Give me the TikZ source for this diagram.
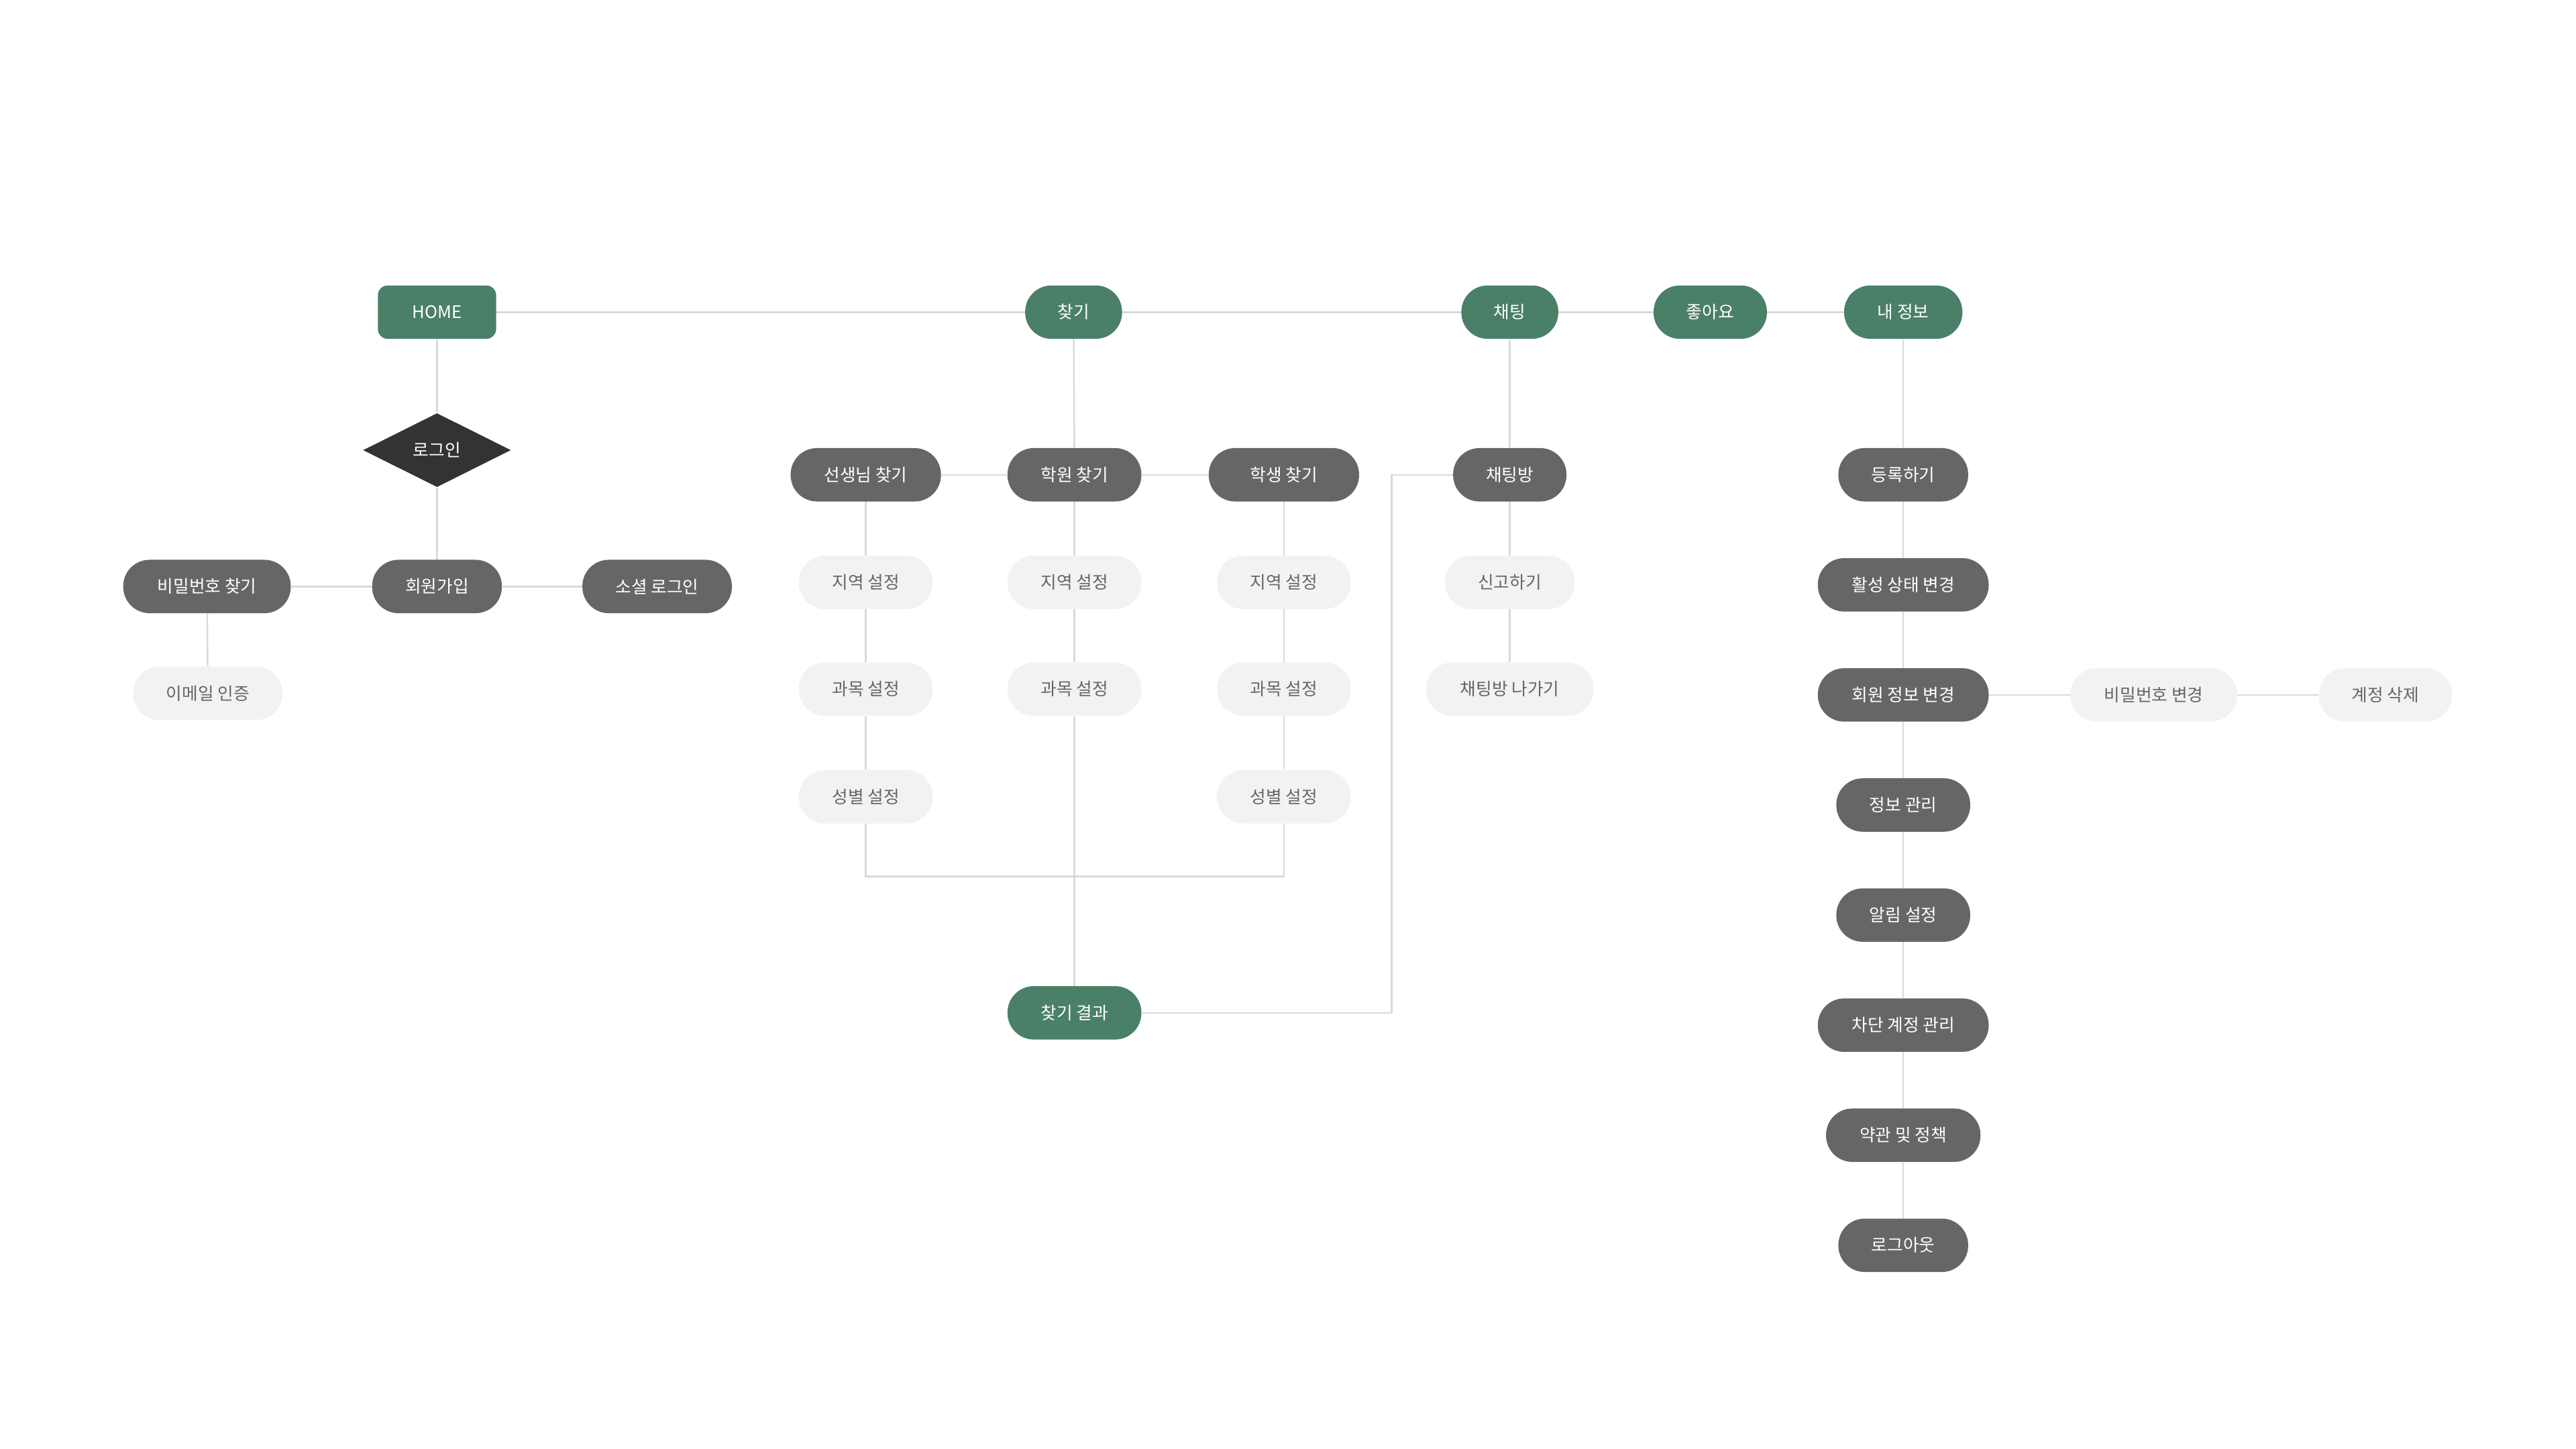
\documentclass[tikz,border=0pt]{standalone}
\usepackage{fontspec}
\setmainfont{Noto Sans CJK KR}
\usepackage{tikz}
\usetikzlibrary{shapes.geometric}

\definecolor{mygreen}{HTML}{4A8067}
\definecolor{mydark}{HTML}{666666}
\definecolor{mylight}{HTML}{F2F2F2}
\definecolor{mytext}{HTML}{666666}
\definecolor{mydiamond}{HTML}{333333}
\definecolor{myline}{HTML}{D9D9D9}

\begin{document}
\begin{tikzpicture}[x=1pt, y=-1pt,
        every node/.style={font=\fontsize{10.5}{12}\selectfont, inner xsep=6pt, inner ysep=0pt, minimum height=32.5pt},
        menu/.style={rectangle, rounded corners=16pt, fill=mygreen, text=white},
        page/.style={rectangle, rounded corners=16pt, fill=mydark, text=white},
        option/.style={rectangle, rounded corners=16pt, fill=mylight, text=mytext},
        decision/.style={diamond, fill=mydiamond, text=white, inner sep=0pt, minimum width=90pt, minimum height=45pt, aspect=2},
        link/.style={draw=myline, line width=1pt} ]
    \useasboundingbox (0,0) rectangle (1568,882);

    \node[menu, rounded corners=6pt, minimum width=72pt] (home) at (266,190) {HOME};
    \node[menu, minimum width=59pt] (find) at (653.5,190) {찾기};
    \node[menu, minimum width=59pt] (chat) at (919,190) {채팅};
    \node[menu, minimum width=69pt] (like) at (1041,190) {좋아요};
    \node[menu, minimum width=72pt] (myinfo) at (1158.5,190) {내 정보};

    \node[decision] (login) at (266,274) {로그인};
    \node[page, minimum width=102pt] (findpw) at (126,357) {비밀번호 찾기};
    \node[page, minimum width=79pt] (signup) at (266,357) {회원가입};
    \node[page, minimum width=91pt] (social) at (400,357) {소셜 로그인};
    \node[option, minimum width=91pt] (email) at (126.5,422) {이메일 인증};

    \node[page, minimum width=91.5pt] (teacher) at (527,289) {선생님 찾기};
    \node[page, minimum width=81.5pt] (academy) at (654,289) {학원 찾기};
    \node[page, minimum width=91.5pt] (student) at (781.5,289) {학생 찾기};
    \node[option, minimum width=81.5pt] (t1) at (527,354.5) {지역 설정};
    \node[option, minimum width=81.5pt] (t2) at (527,419.5) {과목 설정};
    \node[option, minimum width=81.5pt] (t3) at (527,485) {성별 설정};
    \node[option, minimum width=81.5pt] (a1) at (654,354.5) {지역 설정};
    \node[option, minimum width=81.5pt] (a2) at (654,419.5) {과목 설정};
    \node[option, minimum width=81.5pt] (s1) at (781.5,354.5) {지역 설정};
    \node[option, minimum width=81.5pt] (s2) at (781.5,419.5) {과목 설정};
    \node[option, minimum width=81.5pt] (s3) at (781.5,485) {성별 설정};
    \node[menu, minimum width=81.5pt] (result) at (654,616.5) {찾기 결과};
    \coordinate (merge) at (654,533.5);
    \coordinate (bend) at (847,289);

    \node[page, minimum width=69pt] (chatroom) at (919,289) {채팅방};
    \node[option, minimum width=79pt] (report) at (919,354.5) {신고하기};
    \node[option, minimum width=102pt] (leave) at (919,419.5) {채팅방 나가기};

    \node[page, minimum width=79pt] (reg) at (1158.5,289) {등록하기};
    \node[page, minimum width=104pt] (status) at (1158.5,356) {활성 상태 변경};
    \node[page, minimum width=104pt] (member) at (1158.5,423) {회원 정보 변경};
    \node[page, minimum width=81.5pt] (manage) at (1158.5,490) {정보 관리};
    \node[page, minimum width=81.5pt] (alarm) at (1158.5,557) {알림 설정};
    \node[page, minimum width=104pt] (block) at (1158.5,624) {차단 계정 관리};
    \node[page, minimum width=94pt] (terms) at (1158.5,691) {약관 및 정책};
    \node[page, minimum width=79pt] (logout) at (1158.5,758) {로그아웃};
    \node[option, minimum width=101.5pt] (pwchange) at (1311,423) {비밀번호 변경};
    \node[option, minimum width=81pt] (delete) at (1452,423) {계정 삭제};

    \draw[link] (home) -- (find) -- (chat) -- (like) -- (myinfo);
    \draw[link] (home) -- (login) -- (signup);
    \draw[link] (findpw) -- (signup) -- (social);
    \draw[link] (findpw) -- (email);
    \draw[link] (find) -- (academy);
    \draw[link] (teacher) -- (academy) -- (student);
    \draw[link] (teacher) -- (t1) -- (t2) -- (t3);
    \draw[link] (academy) -- (a1) -- (a2) -- (result);
    \draw[link] (student) -- (s1) -- (s2) -- (s3);
    \draw[link] (t3) |- (merge) -| (s3);
    \draw[link] (result) -| (bend) -- (chatroom);
    \draw[link] (chat) -- (chatroom) -- (report) -- (leave);
    \draw[link] (myinfo) -- (reg) -- (status) -- (member) -- (manage) -- (alarm) -- (block) -- (terms) -- (logout);
    \draw[link] (member) -- (pwchange) -- (delete);
\end{tikzpicture}
\end{document}
